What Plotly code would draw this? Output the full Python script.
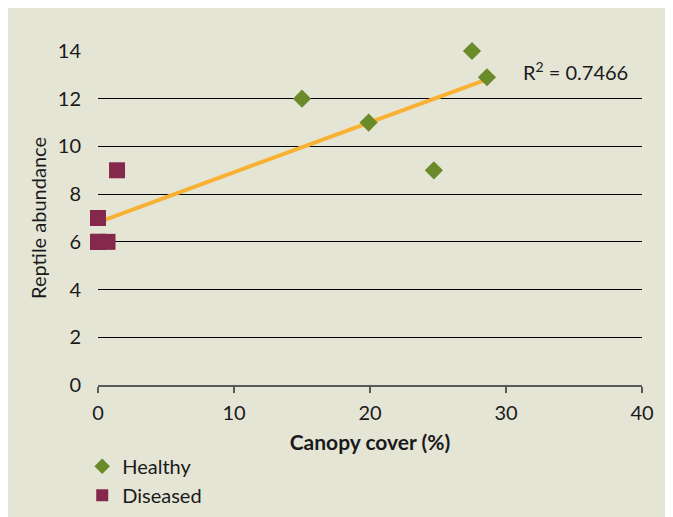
import numpy as np
import plotly.graph_objects as go

healthy_x = [15.0, 19.9, 24.7, 27.5, 28.6]
healthy_y = [12, 11, 9, 14, 12.9]
diseased_x = [1.4, 0.0, 0.0, 0.7, 0.0]
diseased_y = [9, 7, 6, 6, 6]
x_ticks = [0, 10, 20, 30, 40]
y_ticks = [0, 2, 4, 6, 8, 10, 12, 14]
r2_label = "R<sup>2</sup> = 0.7466"

all_x = np.array(healthy_x + diseased_x)
all_y = np.array(healthy_y + diseased_y)
slope, intercept = np.polyfit(all_x, all_y, 1)
tx = np.array([all_x.min(), all_x.max()])
ty = slope * tx + intercept

FONT = "Lato, 'Open Sans', sans-serif"
fig = go.Figure()
fig.add_trace(go.Scatter(x=tx, y=ty, mode="lines", line=dict(color="#F8B133", width=4),
                         showlegend=False, hoverinfo="skip"))
fig.add_trace(go.Scatter(x=healthy_x, y=healthy_y, mode="markers", name="Healthy",
                         marker=dict(symbol="diamond", size=14, color="#6B8A2A"), cliponaxis=False))
fig.add_trace(go.Scatter(x=diseased_x, y=diseased_y, mode="markers", name="Diseased",
                         marker=dict(symbol="square", size=16, color="#84294C"), cliponaxis=False))

fig.add_shape(type="rect", xref="paper", yref="paper",
              x0=-0.2, x1=1.1, y0=-0.45, y1=1.2,
              fillcolor="#E5E5D6", line=dict(width=0), layer="below")

fig.add_annotation(x=35.1, y=13.15, xref="x", yref="y", text=r2_label, showarrow=False,
                   font=dict(size=20, color="#1a1a1a", family=FONT))

fig.update_layout(
    width=665, height=509,
    margin=dict(l=90, r=31, t=43, b=132, autoexpand=False),
    paper_bgcolor="white", plot_bgcolor="rgba(0,0,0,0)",
    font=dict(family=FONT, size=20, color="#1a1a1a"),
    legend=dict(x=-0.029, y=-0.185, xanchor="left", yanchor="top", bgcolor="rgba(0,0,0,0)",
                font=dict(size=20), tracegroupgap=0, itemsizing="constant",
                itemwidth=30),
    xaxis=dict(range=[0, 40], tickvals=x_ticks, showgrid=False, zeroline=False,
               showline=True, linecolor="#595959", linewidth=1.5, automargin=False,
               ticks="outside", ticklen=6, tickcolor="#595959", tickwidth=1.5,
               ticklabelstandoff=3,
               title=dict(text="<b>Canopy cover (%)</b>", font=dict(size=21), standoff=13)),
    yaxis=dict(range=[0, 14], tickvals=y_ticks, showgrid=True, gridcolor="black", gridwidth=1,
               zeroline=False, showline=False, ticks="", ticklabelstandoff=16, automargin=False,
               title=dict(text="Reptile abundance", font=dict(size=20), standoff=5)),
)

fig.write_html("out.html")
